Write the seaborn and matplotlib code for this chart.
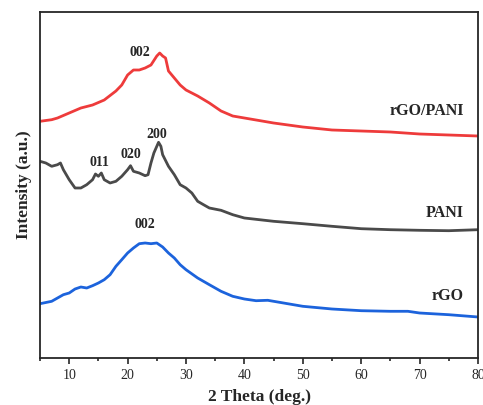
import pandas as pd
import numpy as np
import matplotlib.pyplot as plt
import seaborn as sns

# values (2 theta in deg., intensity in a.u., offset per curve)
theta_comp = [5, 7, 8, 10, 12, 14, 16, 18, 19, 20, 21, 22, 23, 24, 25, 25.5, 26, 26.5, 27, 28,
              29, 30, 32, 34, 36, 38, 40, 45, 50, 55, 60, 65, 70, 75, 80]
int_comp = [236.7, 238.3, 240, 245, 250, 253, 258, 267, 273, 283, 288, 288, 290, 293, 302, 305, 302,
            300, 287, 280, 273, 268, 262, 255, 247, 242, 240, 235, 231, 228, 227, 226, 224, 223, 222]

theta_pani = [5, 6, 7, 8, 8.5, 9, 10, 11, 12, 13, 14, 14.5, 15, 15.5, 16, 17, 18, 19, 20, 20.5, 21,
              22, 23, 23.5, 24, 24.5, 25, 25.3, 25.7, 26, 27, 28, 29, 30, 31, 32, 33, 34, 36, 38,
              40, 45, 50, 55, 60, 65, 70, 75, 80]
int_pani = [196.7, 195, 191.7, 193.3, 195, 188.3, 178.3, 170, 170, 173.3, 178.3, 184, 181.7, 185,
            178.3, 175, 176.7, 181.7, 188.3, 192.3, 186.7, 185, 182.3, 183.3, 195, 205, 211.7,
            215.7, 211.7, 203.3, 191.7, 183.3, 173.3, 170, 165, 156.7, 153.3, 150, 147.7, 143.3,
            140, 136.7, 134.3, 131.7, 129.3, 128.3, 127.7, 127.3, 128.3]

theta_rgo = [5, 7, 8, 9, 10, 11, 12, 13, 14, 15, 16, 17, 18, 19, 20, 21, 22, 23, 24, 25, 26, 27,
             28, 29, 30, 32, 34, 36, 38, 40, 42, 44, 46, 50, 55, 60, 65, 68, 70, 75, 80]
int_rgo = [54.3, 56.7, 60, 63.3, 65, 69, 71, 70, 72.3, 75, 78.3, 83.3, 91.7, 98.3, 105, 110, 114.3,
           115, 114.3, 115, 111, 105, 100, 93.3, 88.3, 80, 73.3, 66.7, 61.7, 59, 57.3, 57.7, 55.7,
           51.7, 49, 47.3, 46.7, 46.7, 45, 43.3, 41]

peak_labels = ['002', '011', '020', '200', '002']
peak_x = [22.1, 15.1, 20.6, 25.0, 23.0]
peak_y = [306, 195, 203, 224, 133]

sample_names = ['rGO/PANI', 'PANI', 'rGO']
name_y = [247, 145, 62]

df = pd.concat([
    pd.DataFrame({'theta': theta_comp, 'I': int_comp, 'sample': 'rGO/PANI'}),
    pd.DataFrame({'theta': theta_pani, 'I': int_pani, 'sample': 'PANI'}),
    pd.DataFrame({'theta': theta_rgo, 'I': int_rgo, 'sample': 'rGO'}),
])

sns.set_style('ticks')
plt.rcParams['font.family'] = ['Liberation Serif', 'DejaVu Serif']

fig = plt.figure(figsize=(4.83, 4.05), dpi=100)
ax = fig.add_axes([40 / 483, 47 / 405, 438 / 483, 346 / 405])

colors = {'rGO/PANI': '#ee3b3b', 'PANI': '#4a4a4a', 'rGO': '#1c63dc'}
sns.lineplot(data=df, x='theta', y='I', hue='sample', palette=colors, linewidth=2.0,
             legend=False, ax=ax, estimator=None, sort=False)

for lab, x, y in zip(peak_labels, peak_x, peak_y):
    ax.text(x, y, lab, ha='center', va='center', fontsize=10, fontweight='bold')
for name, y in zip(sample_names, name_y):
    ax.text(77.6, y, name, ha='right', va='center', fontsize=11.5, fontweight='bold')

ax.set_xlim(5, 80)
ax.set_ylim(0, 346)
ax.set_xticks([10, 20, 30, 40, 50, 60, 70, 80])
ax.set_xticks([5, 15, 25, 35, 45, 55, 65, 75], minor=True)
ax.set_yticks([])
ax.tick_params(axis='x', which='major', direction='out', length=4, width=1.2, labelsize=10, pad=4)
ax.tick_params(axis='x', which='minor', direction='out', length=2, width=1.2)
for s in ax.spines.values():
    s.set_linewidth(1.3)
    s.set_visible(True)
ax.set_xlabel('2 Theta (deg.)', fontsize=12.5, fontweight='bold', labelpad=5)
ax.set_ylabel('Intensity (a.u.)', fontsize=12.5, fontweight='bold', labelpad=6)

fig.savefig('out.png', dpi=100)
